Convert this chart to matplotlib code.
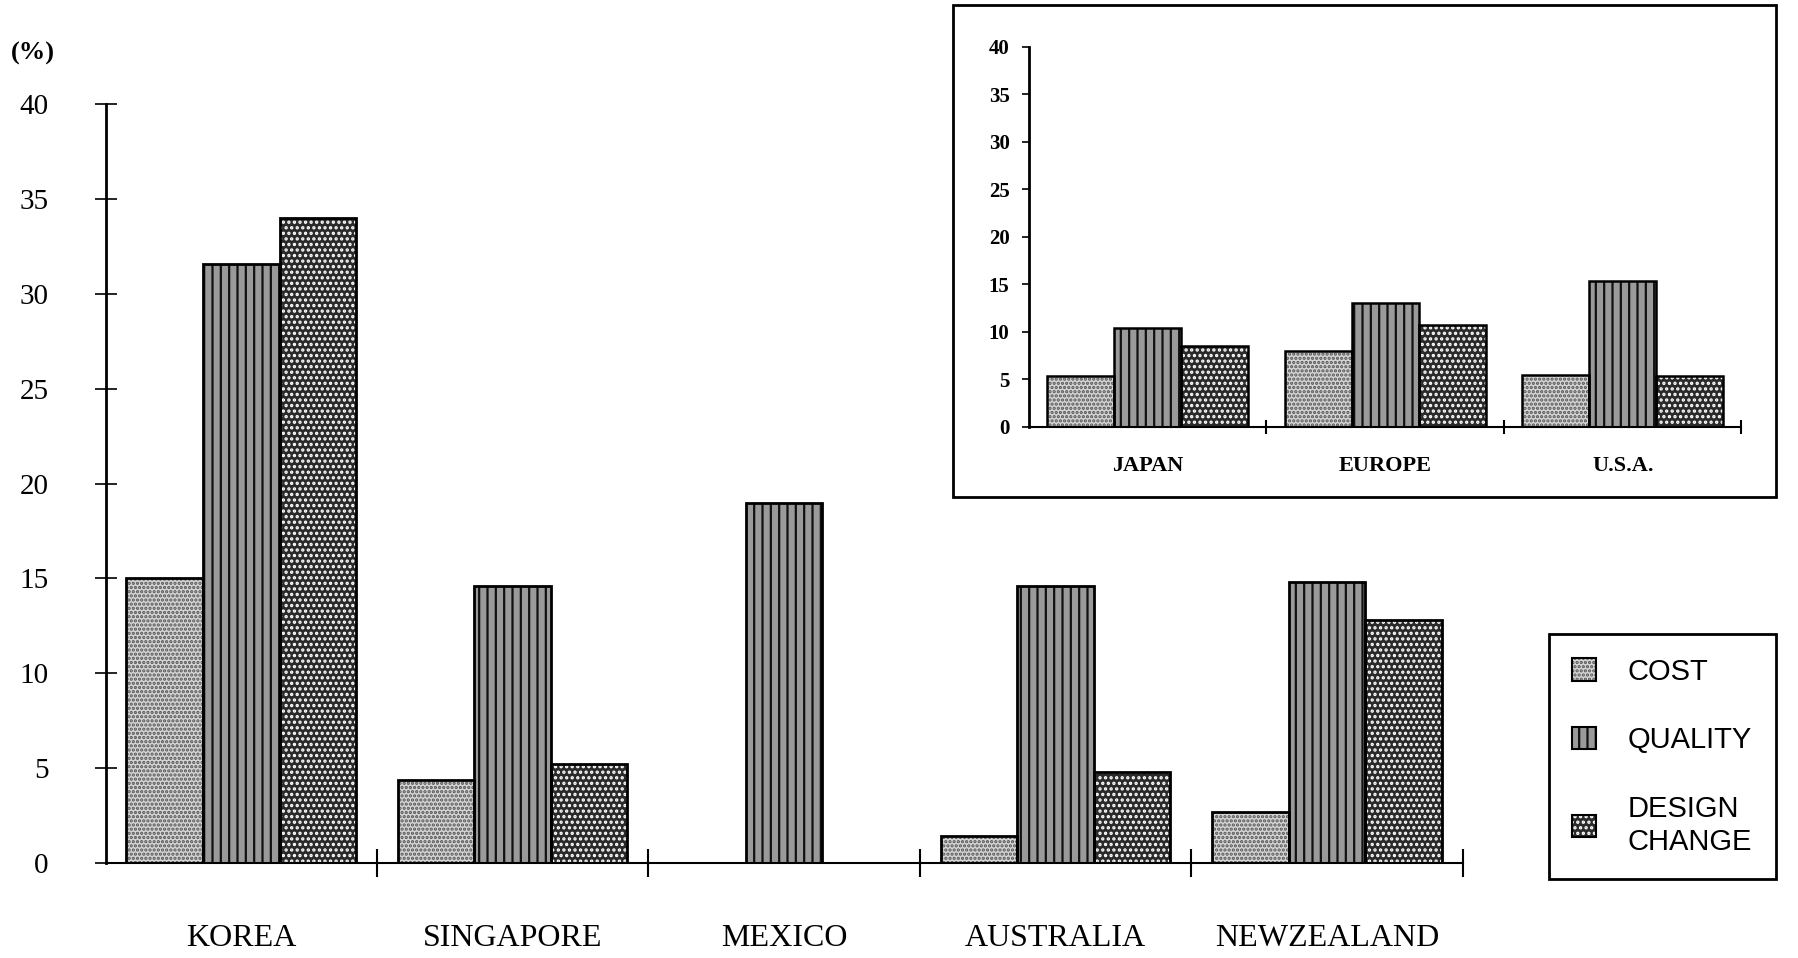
import matplotlib
matplotlib.use("Agg")
import matplotlib.pyplot as plt
import numpy as np
from matplotlib.patches import Patch, Rectangle
from matplotlib.legend_handler import HandlerTuple

# data (%)
countries = ["KOREA", "SINGAPORE", "MEXICO", "AUSTRALIA", "NEWZEALAND"]
cost = [15.0, 4.4, 0.0, 1.4, 2.7]
quality = [31.6, 14.6, 19.0, 14.6, 14.8]
design = [34.0, 5.2, 0.0, 4.8, 12.8]

regions = ["JAPAN", "EUROPE", "U.S.A."]
cost_in = [5.3, 8.0, 5.5]
quality_in = [10.4, 13.0, 15.3]
design_in = [8.5, 10.7, 5.4]

series_names = ["COST", "QUALITY", "DESIGN\nCHANGE"]
# face colour, hatch, hatch colour
styles = [("#d4d4d4", "....", "#555555"),
          ("#9a9a9a", "||", "#111111"),
          ("#2a2a2a", "...", "#ffffff")]

plt.rcParams['font.family'] = ['Liberation Serif', 'DejaVu Serif']
plt.rcParams['hatch.linewidth'] = 1.6

fig = plt.figure(figsize=(17.99, 9.58), dpi=100)


def draw_bars(ax, groups, lw):
    x = np.arange(len(groups[0])) + 0.5
    w = 0.282
    for i, vals in enumerate(groups):
        fc, h, hc = styles[i]
        xi = x + (i - 1) * w
        ax.bar(xi, vals, w, color=fc, hatch=h, edgecolor=hc, linewidth=0, zorder=2)
        ax.bar(xi, vals, w, fill=False, edgecolor="black", linewidth=lw, zorder=3)
    return x


def style_axes(ax, labels, ytick_len, tick_fs, lab_fs, lab_pad, bold):
    n = len(labels)
    ax.set_xlim(0, n)
    ax.set_ylim(0, 40)
    for s in ["top", "right"]:
        ax.spines[s].set_visible(False)
    ax.spines["left"].set_linewidth(2)
    ax.spines["bottom"].set_linewidth(1.5)
    ax.set_yticks(range(0, 41, 5))
    ax.set_xticks(range(1, n + 1))
    ax.set_xticklabels([])
    ax.set_xticks(np.arange(n) + 0.5, minor=True)
    ax.set_xticklabels(labels, minor=True, fontsize=lab_fs,
                       fontweight="bold" if bold else "normal")
    ax.tick_params(axis="x", which="major", direction="inout", length=ytick_len * 1.3, width=1.5)
    ax.tick_params(axis="x", which="minor", length=0, pad=lab_pad)
    ax.tick_params(axis="y", direction="inout", length=ytick_len, width=1.2,
                   labelsize=tick_fs)
    if bold:
        for t in ax.get_yticklabels():
            t.set_fontweight("bold")


# main chart
ax = fig.add_axes([0.0587, 0.0992, 0.7543, 0.792])
ax.patch.set_alpha(0)
draw_bars(ax, [cost, quality, design], 2)
style_axes(ax, countries, 16, 21, 23, 44, False)
ax.tick_params(axis="y", pad=33)
fig.text(0.006, 0.944, "(%)", fontsize=19, fontweight="bold", ha="left", va="center")

# inset chart with its own frame
axi = fig.add_axes([0.572, 0.5545, 0.396, 0.3965])
axi.set_zorder(2)
axi.patch.set_alpha(0)
axi.add_patch(Rectangle((0.530, 0.4814), 0.457, 0.5136, transform=fig.transFigure,
                        facecolor="white", edgecolor="black", linewidth=2,
                        clip_on=False, zorder=0))
draw_bars(axi, [cost_in, quality_in, design_in], 1.8)
style_axes(axi, regions, 8, 15, 16, 21, True)
axi.tick_params(axis="y", direction="out", length=5, pad=9)

# legend
handles = []
for fc, h, hc in styles:
    handles.append((Patch(facecolor=fc, hatch=h, edgecolor=hc, linewidth=0),
                    Patch(fill=False, edgecolor="black", linewidth=1.5)))
leg = fig.legend(handles, series_names, loc="upper left", bbox_to_anchor=(0.861, 0.338),
                 borderaxespad=0, prop={"family": "Liberation Sans", "size": 21},
                 handler_map={tuple: HandlerTuple(ndivide=1, pad=0)},
                 handlelength=0.8, handleheight=0.8, handletextpad=1.1,
                 labelspacing=1.4, borderpad=0.8, fancybox=False, edgecolor="black",
                 framealpha=1)
leg.get_frame().set_linewidth(2)

fig.savefig("out.png", dpi=100)
